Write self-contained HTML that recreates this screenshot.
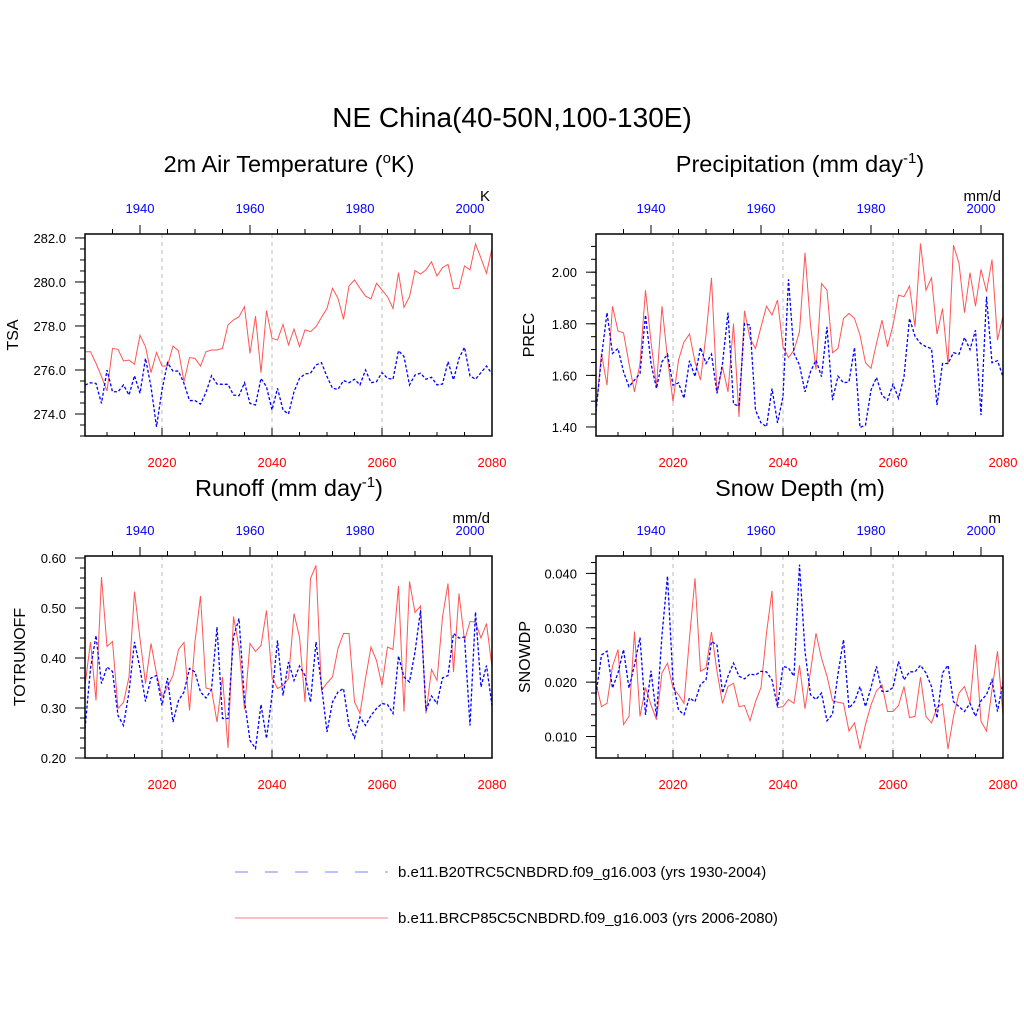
<!DOCTYPE html>
<html><head><meta charset="utf-8"><style>
html,body{margin:0;padding:0;background:#fff;}
svg text{font-family:"Liberation Sans",sans-serif;}
</style></head><body>
<svg id="c" width="1024" height="1024" xmlns="http://www.w3.org/2000/svg">
<rect width="1024" height="1024" fill="#fff"/>
<text x="512" y="127" font-size="28" text-anchor="middle">NE China(40-50N,100-130E)</text>
<text x="289" y="172" font-size="23.5" text-anchor="middle">2m Air Temperature (<tspan font-size="15" dy="-9">o</tspan><tspan dy="9">K)</tspan></text>
<text x="800" y="172" font-size="23.5" text-anchor="middle">Precipitation (mm day<tspan font-size="15" dy="-9">-1</tspan><tspan dy="9">)</tspan></text>
<text x="289" y="496" font-size="23.5" text-anchor="middle">Runoff (mm day<tspan font-size="15" dy="-9">-1</tspan><tspan dy="9">)</tspan></text>
<text x="800" y="496" font-size="23.5" text-anchor="middle">Snow Depth (m)</text>
<g>
<line x1="235" y1="872" x2="388" y2="872" stroke="#9999ff" stroke-width="1.2" stroke-dasharray="13,17"/>
<text x="398" y="877" font-size="15">b.e11.B20TRC5CNBDRD.f09_g16.003 (yrs 1930-2004)</text>
<line x1="235" y1="918" x2="388" y2="918" stroke="#ff9999" stroke-width="1.2"/>
<text x="398" y="923" font-size="15">b.e11.BRCP85C5CNBDRD.f09_g16.003 (yrs 2006-2080)</text>
</g>
</svg>
<script>
const yearsRed = []; for (let y = 2006; y <= 2080; y++) yearsRed.push(y);
const bottomTicks = [2020, 2040, 2060, 2080];
const topTicks = [1940, 1960, 1980, 2000];

const tsaRed = [276.83,276.83,276.30,275.70,275.05,276.98,276.94,276.41,276.45,276.26,277.58,277.06,275.88,276.80,276.18,276.18,277.09,276.88,275.47,276.56,276.53,276.18,276.83,276.91,276.91,276.98,278.05,278.27,278.42,278.88,276.75,278.45,275.88,278.70,277.44,277.36,278.07,277.14,277.86,277.06,277.82,277.74,277.97,278.39,278.80,279.71,279.26,278.30,279.82,280.09,279.71,279.36,279.23,279.94,279.64,279.33,278.79,280.42,278.85,279.33,280.52,280.36,280.55,280.92,280.27,280.65,280.80,279.71,279.71,280.73,280.55,281.73,281.08,280.39,281.53];
const tsaBlue = [275.32,275.42,275.39,274.48,276.00,275.01,275.01,275.32,274.86,275.74,274.94,276.53,275.24,273.42,275.09,276.33,275.95,275.95,275.39,274.61,274.61,274.45,274.98,275.74,275.36,275.35,275.35,274.86,274.83,275.42,274.48,274.41,275.62,275.24,274.18,275.17,274.18,274.00,275.01,275.62,275.82,275.85,276.23,276.33,275.70,275.17,275.12,275.52,275.42,275.58,275.32,276.00,275.42,275.47,275.88,275.62,275.58,276.88,276.61,275.32,275.77,275.85,275.58,275.67,275.32,275.36,276.38,275.55,276.53,277.03,275.73,275.58,275.88,276.18,275.82];
const tsaTicks = [274.0, 276.0, 278.0, 280.0, 282.0];

const precRed = [1.465,1.685,1.562,1.868,1.772,1.765,1.646,1.536,1.646,1.930,1.730,1.556,1.868,1.666,1.498,1.659,1.730,1.760,1.653,1.582,1.756,1.978,1.530,1.633,1.536,1.801,1.439,1.850,1.743,1.704,1.788,1.868,1.834,1.892,1.711,1.669,1.698,1.769,2.075,1.795,1.623,1.956,1.930,1.688,1.704,1.821,1.840,1.821,1.756,1.649,1.627,1.724,1.814,1.711,1.795,1.911,1.905,1.946,1.788,2.111,1.930,1.978,1.760,1.859,1.644,2.105,2.034,1.843,1.998,1.868,2.011,1.924,2.049,1.737,1.830];
const precBlue = [1.459,1.672,1.843,1.685,1.704,1.614,1.556,1.582,1.607,1.834,1.646,1.549,1.653,1.682,1.562,1.571,1.511,1.657,1.595,1.708,1.646,1.682,1.530,1.646,1.843,1.489,1.481,1.801,1.795,1.465,1.416,1.401,1.549,1.416,1.517,1.972,1.685,1.640,1.536,1.614,1.659,1.595,1.788,1.504,1.597,1.571,1.575,1.708,1.398,1.407,1.543,1.592,1.523,1.504,1.566,1.511,1.595,1.821,1.752,1.724,1.711,1.704,1.485,1.646,1.646,1.688,1.682,1.747,1.700,1.775,1.446,1.905,1.649,1.657,1.595];
const precTicks = [1.40, 1.60, 1.80, 2.00];

const runRed = [0.345,0.432,0.315,0.562,0.423,0.433,0.299,0.311,0.362,0.533,0.439,0.349,0.429,0.369,0.322,0.342,0.365,0.417,0.431,0.295,0.433,0.524,0.340,0.337,0.272,0.362,0.220,0.483,0.422,0.297,0.429,0.413,0.425,0.495,0.362,0.339,0.345,0.359,0.489,0.442,0.312,0.559,0.585,0.335,0.350,0.362,0.419,0.449,0.449,0.312,0.289,0.359,0.422,0.395,0.345,0.422,0.417,0.544,0.293,0.553,0.491,0.504,0.289,0.377,0.355,0.482,0.549,0.372,0.529,0.435,0.473,0.472,0.440,0.469,0.382];
const runBlue = [0.259,0.379,0.445,0.349,0.382,0.373,0.285,0.265,0.332,0.432,0.379,0.313,0.360,0.365,0.305,0.360,0.272,0.315,0.332,0.379,0.372,0.332,0.320,0.337,0.462,0.279,0.279,0.442,0.479,0.315,0.235,0.219,0.307,0.239,0.325,0.435,0.325,0.392,0.355,0.384,0.365,0.312,0.432,0.345,0.252,0.312,0.332,0.339,0.265,0.240,0.282,0.265,0.285,0.299,0.309,0.307,0.289,0.404,0.362,0.352,0.412,0.495,0.295,0.324,0.309,0.360,0.365,0.449,0.440,0.442,0.265,0.492,0.342,0.385,0.305];
const runTicks = [0.20, 0.30, 0.40, 0.50, 0.60];

const snowRed = [0.0198,0.0155,0.0161,0.0229,0.0260,0.0122,0.0137,0.0293,0.0137,0.0190,0.0158,0.0131,0.0217,0.0235,0.0189,0.0177,0.0161,0.0281,0.0391,0.0220,0.0226,0.0292,0.0220,0.0161,0.0192,0.0198,0.0155,0.0157,0.0129,0.0164,0.0190,0.0290,0.0368,0.0153,0.0155,0.0168,0.0161,0.0231,0.0151,0.0220,0.0290,0.0244,0.0211,0.0166,0.0163,0.0161,0.0110,0.0125,0.0077,0.0122,0.0158,0.0184,0.0195,0.0146,0.0146,0.0157,0.0192,0.0135,0.0137,0.0209,0.0137,0.0125,0.0153,0.0160,0.0077,0.0137,0.0180,0.0192,0.0161,0.0269,0.0128,0.0110,0.0186,0.0257,0.0140];
const snowBlue = [0.0177,0.0250,0.0257,0.0189,0.0217,0.0260,0.0189,0.0232,0.0282,0.0140,0.0221,0.0137,0.0287,0.0395,0.0201,0.0149,0.0140,0.0171,0.0164,0.0196,0.0204,0.0275,0.0268,0.0180,0.0211,0.0235,0.0211,0.0206,0.0215,0.0213,0.0220,0.0219,0.0204,0.0155,0.0229,0.0226,0.0211,0.0416,0.0257,0.0177,0.0168,0.0180,0.0129,0.0141,0.0215,0.0278,0.0152,0.0164,0.0192,0.0155,0.0190,0.0229,0.0183,0.0183,0.0190,0.0238,0.0204,0.0219,0.0219,0.0231,0.0217,0.0192,0.0134,0.0217,0.0231,0.0164,0.0155,0.0146,0.0161,0.0137,0.0166,0.0177,0.0204,0.0146,0.0200];
const snowTicks = [0.010, 0.020, 0.030, 0.040];

const NS = 'http://www.w3.org/2000/svg';
const svg = document.getElementById('c');
function mk(tag, attrs, parent) {
  const e = document.createElementNS(NS, tag);
  for (const k in attrs) e.setAttribute(k, attrs[k]);
  (parent || svg).appendChild(e);
  return e;
}

function panel(cfg) {
  const L = cfg.x0, R = cfg.x0 + 407, T = cfg.y0, B = cfg.y0 + 202;
  const xs = yr => L + (yr - 2006) / 74 * (R - L);
  const ys = v => B - (v - cfg.min) / (cfg.max - cfg.min) * (B - T);
  const g = mk('g', {});
  
  
  [2020, 2040, 2060].forEach(yr => {
    const l = mk('line', {x1: xs(yr), x2: xs(yr), y1: T, y2: B, stroke: '#bbb', 'stroke-width': 1, 'stroke-dasharray': '4,4'}, g);
    
    
  });
  for (let yr = 2010; yr <= 2080; yr += 5) {
    const major = yr % 20 === 0;
    const t1 = mk('line', {x1: xs(yr), x2: xs(yr), y1: B, y2: B - (major ? 8 : 4), stroke: '#000', 'stroke-width': 1}, g);
    
    
  }
  for (let yr = 1935; yr <= 2004; yr += 5) {
    const major = yr % 20 === 0;
    const px = xs(yr + 76);
    const t2 = mk('line', {x1: px, x2: px, y1: T, y2: T - (major ? 9 : 5), stroke: '#000', 'stroke-width': 1}, g);
    
    
  }
  bottomTicks.forEach(yr => {
    const t = mk('text', {x: xs(yr), y: B + 31, 'font-size': 13, fill: '#f00', 'text-anchor': 'middle'}, g);
    t.textContent = yr;
    
    
  });
  topTicks.forEach(yr => {
    const t = mk('text', {x: xs(yr + 76), y: T - 21, 'font-size': 13, fill: '#00f', 'text-anchor': 'middle'}, g);
    t.textContent = yr;
    
    
  });
  const u = mk('text', {x: R - 2, y: T - 33, 'font-size': 15, 'text-anchor': 'end'}, g);
  u.textContent = cfg.units;
  
  
  for (let v = cfg.ticks[0] - cfg.minor * Math.floor((cfg.ticks[0] - cfg.min) / cfg.minor + 1e-6); v <= cfg.max + 1e-9; v += cfg.minor) {
    const t = mk('line', {x1: L, x2: L - 5, y1: ys(v), y2: ys(v), stroke: '#000', 'stroke-width': 1}, g);
    
    
  }
  cfg.ticks.forEach(v => {
    const t = mk('line', {x1: L, x2: L - 10, y1: ys(v), y2: ys(v), stroke: '#000', 'stroke-width': 1}, g);
    
    
    const lb = mk('text', {x: L - 19, y: ys(v) + 5, 'font-size': 13, 'text-anchor': 'end'}, g);
    lb.textContent = v.toFixed(cfg.dec);
    
    
  });
  const yt = mk('text', {x: cfg.titleX, y: (T + B) / 2, 'font-size': 16, 'text-anchor': 'middle', transform: 'rotate(-90 ' + cfg.titleX + ' ' + (T + B) / 2 + ')'}, g);
  yt.textContent = cfg.ytitle;
  
  
  const ptsR = cfg.red.map((v, i) => xs(yearsRed[i]) + ',' + ys(v)).join(' ');
  const pr = mk('polyline', {points: ptsR, fill: 'none', stroke: '#ff5555', 'stroke-width': 1}, g);
  
  
  const ptsB = cfg.blue.map((v, i) => xs(yearsRed[i]) + ',' + ys(v)).join(' ');
  const pb = mk('polyline', {points: ptsB, fill: 'none', stroke: '#0000ff', 'stroke-width': 1.3, 'stroke-dasharray': '3,2'}, g);
  
  
  const fr = mk('rect', {x: L, y: T, width: R - L, height: B - T, fill: 'none', stroke: '#000', 'stroke-width': 1.5}, g);
  
  
}

panel({name: 'tsa', x0: 85, y0: 234, min: 273, max: 282.18, ticks: tsaTicks, minor: 0.5, dec: 1, red: tsaRed, blue: tsaBlue, ytitle: 'TSA', titleX: 18, units: 'K'});
panel({name: 'prec', x0: 596, y0: 234, min: 1.365, max: 2.148, ticks: precTicks, minor: 0.05, dec: 2, red: precRed, blue: precBlue, ytitle: 'PREC', titleX: 534, units: 'mm/d'});
panel({name: 'runoff', x0: 85, y0: 556, min: 0.2, max: 0.604, ticks: runTicks, minor: 0.02, dec: 2, red: runRed, blue: runBlue, ytitle: 'TOTRUNOFF', titleX: 25, units: 'mm/d'});
panel({name: 'snow', x0: 596, y0: 556, min: 0.00605, max: 0.0432, ticks: snowTicks, minor: 0.002, dec: 3, red: snowRed, blue: snowBlue, ytitle: 'SNOWDP', titleX: 530, units: 'm'});
</script>
</body></html>
